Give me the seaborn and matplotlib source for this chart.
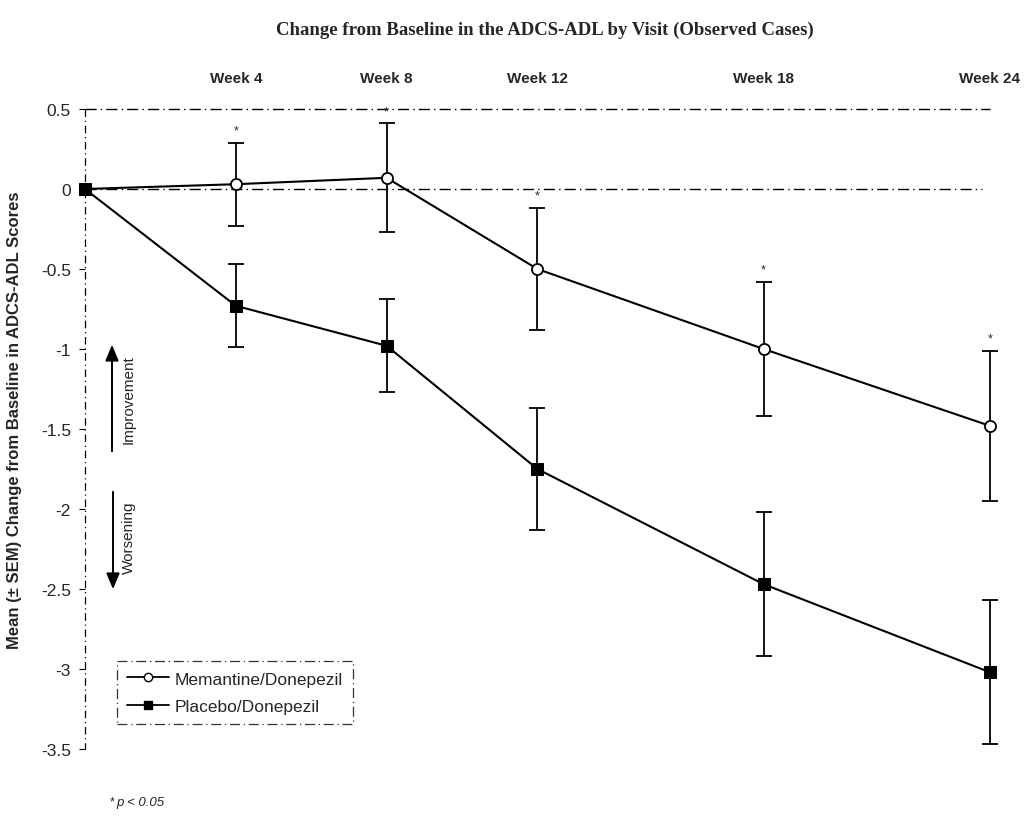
import numpy as np
import pandas as pd
import matplotlib
matplotlib.use("Agg")
import matplotlib.pyplot as plt
import seaborn as sns

weeks = [0, 4, 8, 12, 18, 24]
week_labels = ["Week 4", "Week 8", "Week 12", "Week 18", "Week 24"]
memantine = [0.0, 0.03, 0.07, -0.50, -1.00, -1.48]
memantine_sem = [0.0, 0.26, 0.34, 0.38, 0.42, 0.47]
placebo = [0.0, -0.73, -0.98, -1.75, -2.47, -3.02]
placebo_sem = [0.0, 0.26, 0.29, 0.38, 0.45, 0.45]
signif_weeks = [4, 8, 12, 18, 24]
yticks = [0.5, 0, -0.5, -1, -1.5, -2, -2.5, -3, -3.5]
ytick_labels = ["0.5", "0", "-0.5", "-1", "-1.5", "-2", "-2.5", "-3", "-3.5"]

sns.set_theme(style="white")
plt.rcParams["font.family"] = ["Liberation Sans", "DejaVu Sans"]

W, H = 1033, 820
fig = plt.figure(figsize=(W / 100, H / 100), dpi=100)
# axes placed so week 0 sits at x=85px, y=0.5 at 110px and y=-3.5 at 750px
px_week = 37.7
px_unit = 160
left = 85
top = 110 - 0.1 * px_unit
ax = fig.add_axes([left / W, (H - (top + 4.2 * px_unit)) / H, 25 * px_week / W, 4.2 * px_unit / H])
ax.set_xlim(0, 25)
ax.set_ylim(-3.6, 0.6)
for s in ax.spines.values():
    s.set_visible(False)

df = pd.DataFrame({
    "week": weeks * 2,
    "change": memantine + placebo,
    "group": ["Memantine/Donepezil"] * 6 + ["Placebo/Donepezil"] * 6,
})

dash = (0, (8, 3, 1, 3))
ax.plot([0, 24], [0.5, 0.5], color="black", lw=1.0, linestyle=dash, clip_on=False)
ax.plot([0, 23.8], [0, 0], color="black", lw=1.0, linestyle=dash, clip_on=False)
ax.plot([0, 0], [0.5, -3.5], color="black", lw=0.9, linestyle=(0, (6, 3, 1, 3)), clip_on=False)

ax.errorbar(weeks[1:], memantine[1:], yerr=memantine_sem[1:], fmt="none",
            ecolor="black", elinewidth=1.3, capsize=6, capthick=1.3, zorder=2)
ax.errorbar(weeks[1:], placebo[1:], yerr=placebo_sem[1:], fmt="none",
            ecolor="black", elinewidth=1.3, capsize=6, capthick=1.3, zorder=2)

sns.lineplot(data=df[df.group == "Memantine/Donepezil"], x="week", y="change", ax=ax,
             color="black", lw=1.5, marker="o", markersize=8, markerfacecolor="white",
             markeredgecolor="black", markeredgewidth=1.3, legend=False, zorder=4, clip_on=False)
sns.lineplot(data=df[df.group == "Placebo/Donepezil"], x="week", y="change", ax=ax,
             color="black", lw=1.5, marker="s", markersize=8, markerfacecolor="black",
             markeredgecolor="black", legend=False, zorder=5, clip_on=False)

for w in signif_weeks:
    i = weeks.index(w)
    ax.text(w, memantine[i] + memantine_sem[i] + 0.04, "*", ha="center", va="bottom", fontsize=9)

ax.set_yticks(yticks)
ax.set_yticklabels(ytick_labels, fontsize=12.5)
ax.tick_params(axis="y", left=True, length=4, width=0.8, pad=6, color="black")
ax.set_xticks([])
ax.set_xlabel("")
ax.set_ylabel("")

for w, lab in zip(weeks[1:], week_labels):
    ax.text(w, 0.65, lab, ha="center", va="bottom", fontsize=11, fontweight="bold")

fig.text(15 / W, 1 - 420 / H, "Mean (\u00b1 SEM) Change from Baseline in ADCS-ADL Scores",
         rotation=90, ha="center", va="center", fontsize=12, fontweight="bold")
fig.text(545 / W, 1 - 30 / H, "Change from Baseline in the ADCS-ADL by Visit (Observed Cases)",
         ha="center", va="center", fontsize=13.5, fontweight="bold",
         family=["Liberation Serif", "DejaVu Serif"])

# improvement / worsening arrows
fig.patches.append(matplotlib.patches.FancyArrowPatch(
    (112 / W, 1 - 455 / H), (112 / W, 1 - 343 / H), transform=fig.transFigure,
    arrowstyle="-|>,head_length=0.6,head_width=0.25", mutation_scale=16, color="black", lw=1.4))
fig.patches.append(matplotlib.patches.FancyArrowPatch(
    (113 / W, 1 - 490 / H), (113 / W, 1 - 593 / H), transform=fig.transFigure,
    arrowstyle="-|>,head_length=0.6,head_width=0.25", mutation_scale=16, color="black", lw=1.4))
fig.text(129 / W, 1 - 400 / H, "Improvement", rotation=90, ha="center", va="center", fontsize=11)
fig.text(129 / W, 1 - 538 / H, "Worsening", rotation=90, ha="center", va="center", fontsize=11)

h1 = plt.Line2D([], [], color="black", lw=1.3, marker="o", markersize=6,
                markerfacecolor="white", markeredgecolor="black")
h2 = plt.Line2D([], [], color="black", lw=1.3, marker="s", markersize=6,
                markerfacecolor="black", markeredgecolor="black")
leg = fig.legend([h1, h2], ["Memantine/Donepezil", "Placebo/Donepezil"],
                 loc="upper left", bbox_to_anchor=(117 / W, 1 - 662 / H),
                 fontsize=12.5, frameon=True, fancybox=False, handlelength=2.4,
                 handletextpad=0.3, borderpad=0.6, labelspacing=0.7, borderaxespad=0)
frame = leg.get_frame()
frame.set_edgecolor("black")
frame.set_linestyle((0, (8, 3, 1, 3)))
frame.set_linewidth(0.9)

fig.text(110 / W, 1 - 802 / H, "*", ha="left", va="center", fontsize=9)
fig.text(116 / W, 1 - 803 / H, "p < 0.05", ha="left", va="center", fontsize=9.5, style="italic")

fig.savefig("out.png", dpi=100, facecolor="white")
